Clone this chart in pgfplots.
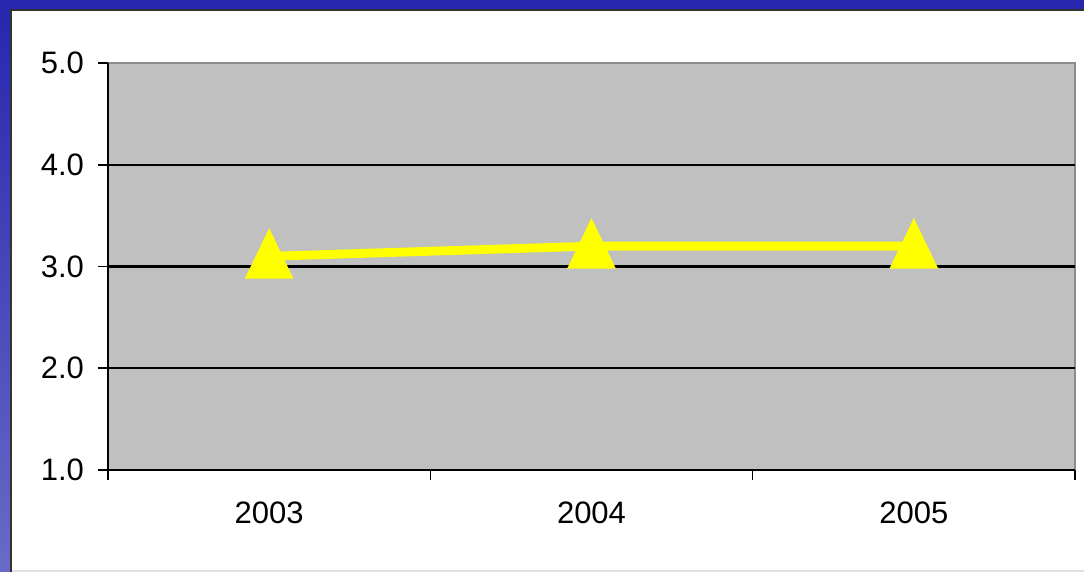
\documentclass[border=0pt]{standalone}
\usepackage{pgfplots}
\pgfplotsset{compat=1.18}
\usepackage{fontspec}
\setmainfont{Liberation Sans}
\definecolor{plotgray}{HTML}{C0C0C0}
\definecolor{frameblue}{HTML}{2626AE}
\definecolor{frameblue2}{HTML}{6A6AC6}
\definecolor{lineyellow}{HTML}{FFFF00}
\begin{document}
\begin{tikzpicture}[x=1pt,y=1pt]
\useasboundingbox (0,0) rectangle (542,286);
\fill[white] (0,0) rectangle (542,286);
\shade[top color=frameblue, bottom color=frameblue2] (0,0) rectangle (5,286);
\fill[frameblue] (0,281.5) rectangle (542,286);
\draw[black!80, line width=0.8pt] (5.4,0) -- (5.4,281.1) -- (542,281.1);
\draw[black!12, line width=0.8pt] (5.8,0.4) -- (542,0.4);
\begin{axis}[
  at={(54pt,51pt)}, anchor=south west,
  scale only axis, width=483.5pt, height=203.5pt,
  xmin=0.5, xmax=3.5, ymin=1, ymax=5,
  axis lines*=left,
  axis line style={black, line width=1.1pt},
  axis background/.style={fill=plotgray, draw=black!45, line width=0.6pt},
  xtick={0.5,1.5,2.5,3.5}, xticklabels={},
  extra x ticks={1,2,3}, extra x tick labels={2003,2004,2005},
  extra x tick style={major tick length=0pt},
  ytick={1,2,3,4,5},
  extra y ticks={2,3,4}, extra y tick labels={},
  extra y tick style={ymajorgrids=true, major tick length=0pt},
  grid style={black, line width=1.2pt},
  tick align=outside, major tick length=5pt,
  tick style={black, line width=0.8pt},
  ticklabel style={font=\fontsize{15.5}{18}\selectfont},
  yticklabel style={xshift=-3.5pt, /pgf/number format/.cd, fixed, fixed zerofill, precision=1, assume math mode=true},
  xticklabel style={yshift=-12.5pt},
]
\addplot[color=lineyellow, line width=4.4pt, mark=triangle*, mark size=10pt,
  mark options={yshift=-3pt, yscale=1.2, fill=lineyellow, draw=none}]
  coordinates {(1,3.1) (2,3.2) (3,3.2)};
\end{axis}
\end{tikzpicture}
\end{document}
